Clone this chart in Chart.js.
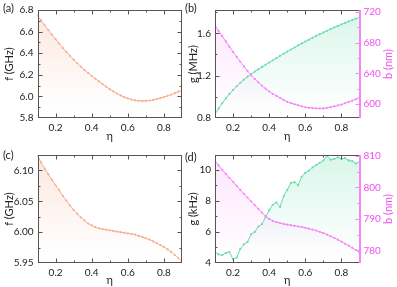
<!DOCTYPE html>
<html>
<head>
<meta charset="utf-8">
<script src="https://cdn.jsdelivr.net/npm/chart.js@4.4.1/dist/chart.umd.min.js"></script>
<style>
  html, body { margin: 0; padding: 0; background: #fff; }
  #wrap { position: relative; width: 397px; height: 287px; overflow: hidden; font-family: Lato, "Open Sans", sans-serif; }
  canvas { position: absolute; }
  .tag { position: absolute; font-size: 11px; line-height: 13px; color: #222; }
</style>
</head>
<body>
<div id="wrap">
  <canvas id="pa" width="184" height="143" style="left:0;top:0"></canvas>
  <canvas id="pb" width="213" height="143" style="left:184px;top:0"></canvas>
  <canvas id="pc" width="184" height="142" style="left:0;top:145px"></canvas>
  <canvas id="pd" width="213" height="142" style="left:184px;top:145px"></canvas>
  <div class="tag" style="left:3px;top:1px">(a)</div>
  <div class="tag" style="left:185px;top:1px">(b)</div>
  <div class="tag" style="left:3px;top:148px">(c)</div>
  <div class="tag" style="left:185px;top:150px">(d)</div>
</div>
<script>
// ---- data ----
const eta = [0.10, 0.12, 0.14, 0.16, 0.18, 0.20, 0.22, 0.24, 0.26, 0.28, 0.30, 0.32, 0.34, 0.36,
  0.38, 0.40, 0.42, 0.44, 0.46, 0.48, 0.50, 0.52, 0.54, 0.56, 0.58, 0.60, 0.62, 0.64, 0.66,
  0.68, 0.70, 0.72, 0.74, 0.76, 0.78, 0.80, 0.82, 0.84, 0.86, 0.88, 0.90];

// (a) f (GHz)
const fA = [6.750, 6.704, 6.659, 6.615, 6.572, 6.530, 6.490, 6.450, 6.411, 6.375, 6.340, 6.307,
  6.275, 6.245, 6.217, 6.190, 6.164, 6.139, 6.114, 6.090, 6.067, 6.046, 6.026, 6.009, 5.994,
  5.981, 5.971, 5.964, 5.959, 5.957, 5.958, 5.961, 5.967, 5.975, 5.984, 5.994, 6.005, 6.017,
  6.030, 6.044, 6.058];
// (b) g (MHz) and b (nm)
const gB = [0.837, 0.890, 0.940, 0.985, 1.027, 1.065, 1.100, 1.132, 1.162, 1.190, 1.215, 1.238,
  1.260, 1.282, 1.303, 1.324, 1.345, 1.366, 1.387, 1.407, 1.427, 1.447, 1.466, 1.485, 1.504,
  1.522, 1.540, 1.558, 1.575, 1.592, 1.608, 1.624, 1.640, 1.655, 1.670, 1.684, 1.698, 1.712,
  1.725, 1.738, 1.751];
const bB = [702.5, 695.4, 688.4, 681.6, 674.8, 668.0, 661.5, 655.2, 649.1, 643.2, 637.5, 632.8,
  628.4, 624.2, 620.2, 616.5, 613.5, 610.8, 608.2, 605.5, 603.0, 601.3, 599.9, 598.5, 597.2,
  596.0, 595.3, 594.8, 594.5, 594.4, 594.5, 595.2, 596.1, 597.1, 598.3, 599.5, 601.1, 602.8,
  604.6, 606.5, 608.5];
// (c) f (GHz)
const fC = [6.124, 6.113, 6.103, 6.094, 6.085, 6.076, 6.068, 6.059, 6.051, 6.043, 6.036, 6.030,
  6.024, 6.019, 6.014, 6.011, 6.008, 6.006, 6.005, 6.004, 6.003, 6.002, 6.001, 6.000, 5.999,
  5.998, 5.997, 5.996, 5.994, 5.992, 5.990, 5.988, 5.985, 5.982, 5.979, 5.976, 5.972, 5.968,
  5.963, 5.958, 5.952];
// (d) g (kHz) and b (nm)
const gD = [4.70, 4.55, 4.50, 4.65, 4.70, 4.25, 4.35, 4.90, 5.20, 5.35, 5.85, 6.00, 6.35, 6.50,
  6.95, 7.40, 7.75, 7.90, 7.60, 8.30, 8.70, 9.15, 9.20, 9.00, 9.55, 9.80, 9.95, 10.15, 10.30,
  10.45, 10.60, 10.90, 10.65, 10.70, 10.80, 10.70, 10.75, 10.60, 10.55, 10.40, 10.50];
const bD = [808.5, 807.0, 805.6, 804.3, 803.0, 801.8, 800.5, 799.2, 798.0, 796.8, 795.6, 794.4,
  793.2, 792.0, 790.9, 790.0, 789.4, 789.0, 788.7, 788.4, 788.2, 788.0, 787.8, 787.6, 787.4,
  787.2, 786.9, 786.6, 786.3, 785.9, 785.5, 785.0, 784.5, 784.0, 783.4, 782.8, 782.1, 781.5,
  780.8, 780.1, 779.3];

// tick labels
const etaTicks = [0.2, 0.4, 0.6, 0.8];
const fATicks = [5.8, 6.0, 6.2, 6.4, 6.6, 6.8];
const gBTicks = [0.8, 1.2, 1.6];
const bBTicks = [600, 640, 680, 720];
const fCTicks = [5.95, 6.00, 6.05, 6.10];
const gDTicks = [4, 6, 8, 10];
const bDTicks = [780, 790, 800, 810];

// ---- style ----
const FONT = 'Lato, "Open Sans", sans-serif';
const INK = '#222';
const SALMON = '#F6AE92', SALMON_RGB = '246,174,146';
const GREEN = '#6ADCAE', GREEN_RGB = '106,220,174';
const PINK = '#F785F7', PINK_RGB = '247,133,247';
const PINK_TXT = '#F050EE';

// vertical fade under a curve: tinted at the top of the plot, white at the bottom
function fade(rgb, a0) {
  return (c) => {
    const area = c.chart.chartArea;
    if (!area) return 'rgba(0,0,0,0)';
    const g = c.chart.ctx.createLinearGradient(0, area.top, 0, area.bottom);
    g.addColorStop(0, `rgba(${rgb},${a0})`);
    g.addColorStop(0.85, `rgba(${rgb},0.02)`);
    g.addColorStop(1, `rgba(${rgb},0)`);
    return g;
  };
}

function series(ys, color, rgb, axis, a0) {
  return {
    data: eta.map((x, i) => ({ x, y: ys[i] })),
    yAxisID: axis,
    borderColor: color,
    borderWidth: 1,
    pointRadius: 1.1,
    pointHoverRadius: 0,
    pointBorderWidth: 0,
    pointBackgroundColor: color,
    fill: 'start',
    backgroundColor: fade(rgb, a0),
    tension: 0
  };
}

const fixTicks = (vals) => (s) => { s.ticks = vals.map(v => ({ value: v })); };

function xScale(h) {
  return {
    type: 'linear', min: 0.1, max: 0.9,
    afterBuildTicks: fixTicks(etaTicks),
    afterFit: (s) => { s.height = h; },
    grid: { display: false, drawTicks: false },
    border: { display: false },
    ticks: { color: INK, font: { family: FONT, size: 10 }, padding: 4, maxRotation: 0, autoSkip: false,
      callback: v => v.toFixed(1) },
    title: { display: true, text: 'η', color: INK, font: { family: FONT, size: 11 }, padding: { top: 0, bottom: 0 } }
  };
}

function yScale(pos, min, max, ticks, dec, width, title, color) {
  return {
    type: 'linear', position: pos, min, max,
    afterBuildTicks: fixTicks(ticks),
    afterFit: (s) => { s.width = width; },
    grid: { display: false, drawTicks: false },
    border: { display: false },
    ticks: { color, font: { family: FONT, size: 10 }, padding: 4, autoSkip: false,
      callback: v => v.toFixed(dec) },
    title: title
      ? { display: true, text: title, color: INK, font: { family: FONT, size: 11 }, padding: { top: 3, bottom: 0 } }
      : { display: false }
  };
}

// frame box, inward ticks, right-hand title
const frame = {
  id: 'frame',
  afterDatasetsDraw(chart, args, o) {
    const { ctx, chartArea: a, scales } = chart;
    const L = Math.round(a.left) + 0.5, R = Math.round(a.right) - 0.5;
    const T = Math.round(a.top) + 0.5, B = Math.round(a.bottom) - 0.5;
    const marks = (majors, min, max) => {
      const step = majors[1] - majors[0];
      const out = majors.map(v => ({ v, len: 4 }));
      majors.forEach(m => [m - step / 2, m + step / 2].forEach(v => {
        if (!out.some(t => Math.abs(t.v - v) < 1e-9)) out.push({ v, len: 2 });
      }));
      return out.filter(t => t.v > min + 1e-9 && t.v < max - 1e-9);
    };
    const line = (x1, y1, x2, y2) => { ctx.beginPath(); ctx.moveTo(x1, y1); ctx.lineTo(x2, y2); ctx.stroke(); };
    ctx.save();
    ctx.lineWidth = 1;
    ctx.strokeStyle = '#555';
    marks(etaTicks, 0.1, 0.9).forEach(t => {
      const x = Math.round(scales.x.getPixelForValue(t.v)) + 0.5;
      line(x, B, x, B - t.len);
      line(x, T, x, T + t.len);
    });
    const y = scales.y;
    marks(o.yTicks, y.min, y.max).forEach(t => {
      const p = Math.round(y.getPixelForValue(t.v)) + 0.5;
      line(L, p, L + t.len, p);
      if (!o.y2Ticks) line(R, p, R - t.len, p);
    });
    ctx.strokeRect(L, T, R - L, B - T);
    if (o.y2Ticks) {
      const y2 = scales.y2;
      ctx.strokeStyle = PINK;
      marks(o.y2Ticks, y2.min, y2.max).forEach(t => {
        const p = Math.round(y2.getPixelForValue(t.v)) + 0.5;
        line(R, p, R - t.len, p);
      });
      ctx.lineWidth = 2;
      line(R + 0.5, a.top, R + 0.5, a.bottom);
      ctx.translate(chart.width - 9, (a.top + a.bottom) / 2);
      ctx.rotate(-Math.PI / 2);
      ctx.fillStyle = PINK_TXT;
      ctx.font = `11px ${FONT}`;
      ctx.textAlign = 'center';
      ctx.textBaseline = 'middle';
      ctx.fillText(o.y2Title, 0, 0);
    }
    ctx.restore();
  }
};

function panel(id, datasets, scales, pad, frameOpts) {
  return new Chart(document.getElementById(id), {
    type: 'line',
    data: { datasets },
    options: {
      responsive: false,
      animation: false,
      layout: { padding: pad },
      scales,
      plugins: { legend: { display: false }, tooltip: { enabled: false }, frame: frameOpts }
    },
    plugins: [frame]
  });
}

panel('pa', [series(fA, SALMON, SALMON_RGB, 'y', 0.3)],
  { x: xScale(25), y: yScale('left', 5.8, 6.8, fATicks, 1, 37.5, 'f (GHz)', INK) },
  { left: 0, right: 2, top: 3, bottom: 0 }, { yTicks: fATicks });

panel('pb', [series(bB, PINK, PINK_RGB, 'y2', 0.22), series(gB, GREEN, GREEN_RGB, 'y', 0.26)],
  { x: xScale(25),
    y: yScale('left', 0.8, 1.82, gBTicks, 1, 31, 'g (MHz)', INK),
    y2: yScale('right', 582, 722.5, bBTicks, 0, 37.5, null, PINK_TXT) },
  { left: 0, right: 0, top: 3, bottom: 0 }, { yTicks: gBTicks, y2Ticks: bBTicks, y2Title: 'b (nm)' });

panel('pc', [series(fC, SALMON, SALMON_RGB, 'y', 0.3)],
  { x: xScale(24), y: yScale('left', 5.95, 6.125, fCTicks, 2, 37.5, 'f (GHz)', INK) },
  { left: 0, right: 2, top: 4, bottom: 0 }, { yTicks: fCTicks });

panel('pd', [series(bD, PINK, PINK_RGB, 'y2', 0.22), series(gD, GREEN, GREEN_RGB, 'y', 0.26)],
  { x: xScale(24),
    y: yScale('left', 4, 10.95, gDTicks, 0, 31, 'g (kHz)', INK),
    y2: yScale('right', 776, 810.3, bDTicks, 0, 37.5, null, PINK_TXT) },
  { left: 0, right: 0, top: 4, bottom: 0 }, { yTicks: gDTicks, y2Ticks: bDTicks, y2Title: 'b (nm)' });
</script>
</body>
</html>
